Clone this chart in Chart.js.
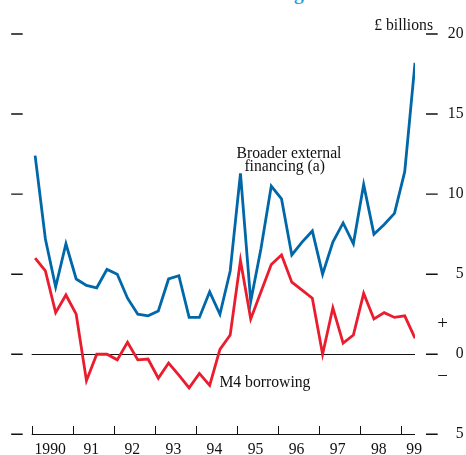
<!DOCTYPE html>
<html>
<head>
<meta charset="utf-8">
<title>M4 borrowing and broader external financing</title>
<script src="https://cdn.jsdelivr.net/npm/chart.js@4/dist/chart.umd.min.js"></script>
<style>
  html, body { margin: 0; padding: 0; background: #fff; }
  canvas { display: block; }
</style>
</head>
<body>
<canvas id="chart" width="466" height="455"></canvas>
<script>
// quarterly flows, 1990 Q1 to 1999 Q2, £ billions
var firstYear = 1990;
var yearLabels = ['1990', '91', '92', '93', '94', '95', '96', '97', '98', '99'];
var valueTicks = [20, 15, 10, 5, 0, -5];

var broaderFinancing = [
	12.4, 7.2, 4.2, 6.9, 4.7, 4.3, 4.15, 5.3, 5.0, 3.5,
	2.5, 2.4, 2.7, 4.7, 4.9, 2.3, 2.3, 3.9, 2.5, 5.2,
	11.3, 3.3, 6.6, 10.5, 9.7, 6.2, 7.0, 7.7, 5.0, 7.0,
	8.2, 6.9, 10.6, 7.5, 8.1, 8.8, 11.4, 18.2
];
var m4Borrowing = [
	6.0, 5.2, 2.6, 3.7, 2.5, -1.65, 0.0, 0.0, -0.35, 0.75,
	-0.35, -0.3, -1.5, -0.55, -1.3, -2.1, -1.2, -1.95, 0.3, 1.2,
	5.85, 2.2, 3.9, 5.6, 6.2, 4.5, 4.0, 3.5, 0.0, 2.9,
	0.7, 1.2, 3.8, 2.2, 2.6, 2.3, 2.4, 1.0
];

const blue = 'rgb(0, 103, 168)';
const red = 'rgb(234, 28, 45)';
const serif = '"Liberation Serif", "DejaVu Serif", serif';

// each quarter is plotted one month into the quarter
function toPoints(values)
{
	return values.map(function(v, i) {
		return { x: firstYear + i / 4 + 1 / 12, y: v };
	});
}

const lastX = firstYear + (broaderFinancing.length - 1) / 4 + 1 / 12;

// axes, ticks and labels drawn by hand from the chart's own scales
const decorations = {
	id: 'decorations',
	beforeDatasetsDraw: function(chart)
	{
		const ctx = chart.ctx;
		const xs = chart.scales.x;
		const ys = chart.scales.y;
		const zeroY = Math.round(ys.getPixelForValue(0)) + 0.5;
		ctx.save();
		ctx.strokeStyle = '#111';
		ctx.lineWidth = 1;
		ctx.beginPath();
		ctx.moveTo(xs.left, zeroY);
		ctx.lineTo(xs.right, zeroY);
		ctx.stroke();
		ctx.restore();
	},
	afterDraw: function(chart)
	{
		const ctx = chart.ctx;
		const xs = chart.scales.x;
		const ys = chart.scales.y;
		const area = chart.chartArea;
		ctx.save();

		// bottom axis with year ticks pointing up
		const baseY = Math.round(ys.getPixelForValue(-5)) + 0.5;
		ctx.strokeStyle = '#111';
		ctx.lineWidth = 1;
		ctx.beginPath();
		ctx.moveTo(xs.left, baseY);
		ctx.lineTo(xs.right, baseY);
		for(let i = 0; i < yearLabels.length; i++)
		{
			let px = Math.round(xs.getPixelForValue(firstYear + i)) + 0.5;
			ctx.moveTo(px, baseY);
			ctx.lineTo(px, baseY - 8.5);
		}
		ctx.stroke();

		// year labels sit inside each year, the last one is pulled back to the axis end
		ctx.fillStyle = '#111';
		ctx.font = '15.7px ' + serif;
		ctx.textAlign = 'center';
		ctx.textBaseline = 'alphabetic';
		for(let i = 0; i < yearLabels.length; i++)
		{
			let xv = Math.min(firstYear + i + 0.45, lastX - 0.02);
			ctx.fillText(yearLabels[i], xs.getPixelForValue(xv), 453.5);
		}

		// value ticks on both sides, labels on the right only
		ctx.lineWidth = 1.4;
		ctx.textAlign = 'right';
		ctx.textBaseline = 'middle';
		for(let i = 0; i < valueTicks.length; i++)
		{
			let py = ys.getPixelForValue(valueTicks[i]);
			ctx.beginPath();
			ctx.moveTo(area.left - 20.5, py);
			ctx.lineTo(area.left - 9, py);
			ctx.moveTo(area.right + 11, py);
			ctx.lineTo(area.right + 22.7, py);
			ctx.stroke();
			ctx.fillText(String(Math.abs(valueTicks[i])), 463.5, py);
		}

		// sign markers either side of zero
		const zeroY = ys.getPixelForValue(0);
		ctx.textAlign = 'center';
		ctx.font = '19px ' + serif;
		ctx.fillText('+', area.right + 27.7, zeroY - 30);
		ctx.fillText('\u2212', area.right + 27.7, zeroY + 22.7);

		// units and series names
		ctx.font = '15.7px ' + serif;
		ctx.textBaseline = 'alphabetic';
		ctx.textAlign = 'right';
		ctx.fillText('\u00a3 billions', area.right + 18, 30);
		ctx.textAlign = 'center';
		ctx.fillText('Broader external', xs.getPixelForValue(1996.265), ys.getPixelForValue(12.27));
		ctx.fillText('financing (a)', xs.getPixelForValue(1996.16), ys.getPixelForValue(11.46));
		ctx.textAlign = 'left';
		ctx.fillText('M4 borrowing', xs.getPixelForValue(1994.57), ys.getPixelForValue(-2.07));

		// tail of the title, cut off by the top edge
		ctx.fillStyle = 'rgb(41, 165, 222)';
		ctx.font = 'bold 20px ' + serif;
		ctx.textAlign = 'right';
		ctx.fillText('financing', 304, -1.5);

		ctx.restore();
	}
};

new Chart(document.getElementById('chart'), {
	type: 'line',
	data: {
		datasets: [
			{
				label: 'Broader external financing (a)',
				data: toPoints(broaderFinancing),
				borderColor: blue,
				borderWidth: 2.8,
				pointRadius: 0,
				tension: 0,
				fill: false
			},
			{
				label: 'M4 borrowing',
				data: toPoints(m4Borrowing),
				borderColor: red,
				borderWidth: 2.8,
				pointRadius: 0,
				tension: 0,
				fill: false
			}
		]
	},
	options: {
		responsive: false,
		animation: false,
		devicePixelRatio: 1,
		layout: { padding: { left: 31.7, right: 51, top: 34, bottom: 20.7 } },
		scales: {
			x: { type: 'linear', min: firstYear, max: lastX, display: false },
			y: { type: 'linear', min: -5, max: 20, display: false }
		},
		plugins: {
			legend: { display: false },
			tooltip: { enabled: false }
		}
	},
	plugins: [decorations]
});
</script>
</body>
</html>
